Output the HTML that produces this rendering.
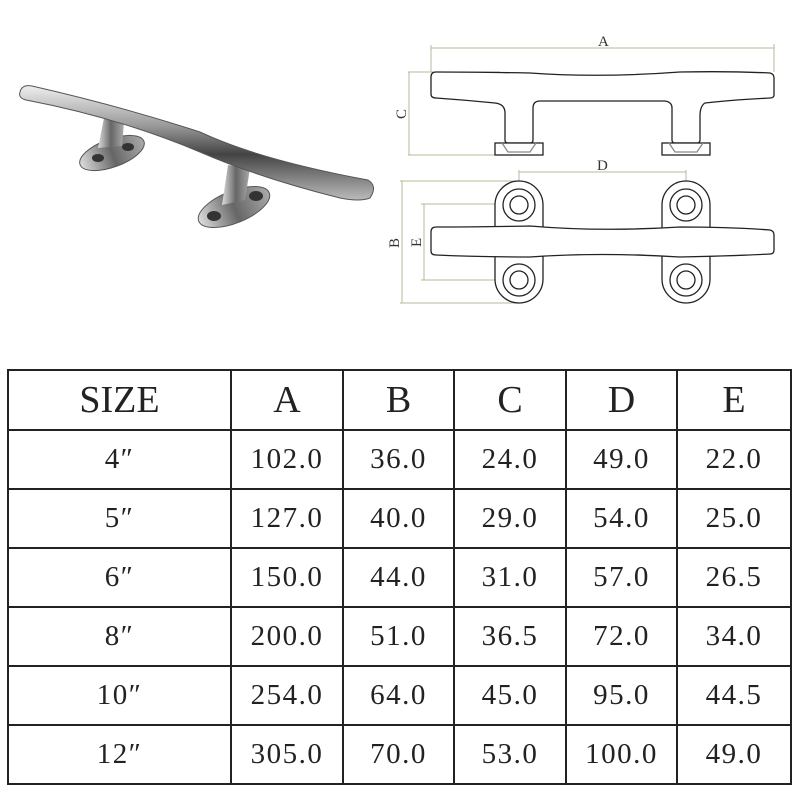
<!DOCTYPE html>
<html><head><meta charset="utf-8"><style>
body{margin:0;width:800px;height:800px;background:#fff;position:relative;overflow:hidden;font-family:"Liberation Serif","Noto Serif CJK SC",serif}
table{position:absolute;left:7px;top:369px;border-collapse:collapse;}
td{border:2.5px solid #222;text-align:center;padding:0;color:#222;font-size:29px;letter-spacing:1.5px;height:57px}
tr.h td{font-size:38px;height:58px;letter-spacing:0}
</style></head><body>
<svg width="800" height="360" style="position:absolute;left:0;top:0">
<defs>
<linearGradient id="g1" x1="0" y1="0" x2="0" y2="1"><stop offset="0" stop-color="#eee"/><stop offset=".35" stop-color="#9a9a9a"/><stop offset=".6" stop-color="#444"/><stop offset="1" stop-color="#bbb"/></linearGradient>
<linearGradient id="g2" x1="0" y1="0" x2="1" y2="0"><stop offset="0" stop-color="#ddd"/><stop offset=".5" stop-color="#666"/><stop offset="1" stop-color="#aaa"/></linearGradient>
</defs>
<g>
<ellipse cx="112" cy="153" rx="34" ry="14" transform="rotate(-20 112 153)" fill="url(#g2)" stroke="#555"/>
<ellipse cx="98" cy="158" rx="6" ry="4" fill="#333"/><ellipse cx="128" cy="147" rx="6" ry="4" fill="#333"/>
<path d="M98 148 L104 118 L124 122 L122 146 Z" fill="url(#g2)"/>
<ellipse cx="234" cy="207" rx="38" ry="16" transform="rotate(-22 234 207)" fill="url(#g2)" stroke="#555"/>
<ellipse cx="214" cy="216" rx="7" ry="5" fill="#333"/><ellipse cx="256" cy="196" rx="7" ry="5" fill="#333"/>
<path d="M222 205 L228 165 L250 168 L245 200 Z" fill="url(#g2)"/>
<path d="M20 92 Q22 84 32 86 Q120 106 200 132 Q260 160 368 180 Q378 186 370 198 Q360 202 340 198 Q260 178 200 152 Q120 118 26 100 Q18 98 20 92 Z" fill="url(#g1)" stroke="#555" stroke-width="1"/>
</g>
<g fill="none" stroke="#b5b89a" stroke-width="1">
<line x1="431" y1="48" x2="774" y2="48"/><line x1="431" y1="45" x2="431" y2="72"/><line x1="774" y1="44" x2="774" y2="72"/>
<line x1="409" y1="72" x2="409" y2="155"/><line x1="408" y1="72" x2="500" y2="72"/><line x1="408" y1="155" x2="495" y2="155"/>
<line x1="519" y1="172" x2="686" y2="172"/><line x1="519" y1="170" x2="519" y2="182"/><line x1="686" y1="170" x2="686" y2="182"/>
<line x1="402" y1="181" x2="402" y2="303"/><line x1="400" y1="181" x2="519" y2="181"/><line x1="400" y1="303" x2="519" y2="303"/>
<line x1="424" y1="204" x2="424" y2="280"/><line x1="421" y1="204" x2="519" y2="204"/><line x1="421" y1="280" x2="519" y2="280"/>
</g>
<g font-size="15" fill="#333" font-family="Liberation Serif,serif">
<text x="598" y="46">A</text><text x="597" y="170">D</text>
<text transform="translate(406 119) rotate(-90)">C</text>
<text transform="translate(399 248) rotate(-90)">B</text>
<text transform="translate(421 247) rotate(-90)">E</text>
</g>
<g fill="#fff" stroke="#222" stroke-width="1.3">
<path d="M436 72 Q470 72 530 73 Q600 78 680 72 Q730 71 770 73 Q774 74 774 78 L774 95 Q774 98 770 98 Q730 100 705 103 Q700 106 700 116 L700 140 Q700 143 697 143 L675 143 Q672 143 672 140 L672 108 Q672 102 665 101 Q600 101 540 101 Q533 101 533 108 L533 140 Q533 143 530 143 L508 143 Q505 143 505 140 L505 113 Q505 104 495 103 Q465 100 436 98 Q431 98 431 94 L431 77 Q431 72 436 72 Z"/>
<rect x="495" y="143" width="48" height="12"/><rect x="662" y="143" width="48" height="12"/>
<path d="M502 143 L508 152 L530 152 L536 143 M669 143 L675 152 L697 152 L703 143" stroke="#888" fill="none"/>
<rect x="495" y="181" width="48" height="122" rx="24"/><rect x="662" y="181" width="48" height="122" rx="24"/>
<path d="M436 227 Q480 227 530 226 Q600 232 680 227 Q730 227 770 230 Q774 231 774 235 L774 250 Q774 254 770 254 Q730 256 680 257 Q600 252 530 257 Q480 257 436 255 Q431 255 431 251 L431 232 Q431 227 436 227 Z"/>
<circle cx="519" cy="205" r="16"/><circle cx="519" cy="205" r="9"/>
<circle cx="519" cy="280" r="16"/><circle cx="519" cy="280" r="9"/>
<circle cx="686" cy="205" r="16"/><circle cx="686" cy="205" r="9"/>
<circle cx="686" cy="280" r="16"/><circle cx="686" cy="280" r="9"/>
</g>
</svg>
<table>
<colgroup><col style="width:223px"><col style="width:112px"><col style="width:111px"><col style="width:112px"><col style="width:111px"><col style="width:114px"></colgroup>
<tr class="h"><td>SIZE</td><td>A</td><td>B</td><td>C</td><td>D</td><td>E</td></tr>
<tr><td>4″</td><td>102.0</td><td>36.0</td><td>24.0</td><td>49.0</td><td>22.0</td></tr>
<tr><td>5″</td><td>127.0</td><td>40.0</td><td>29.0</td><td>54.0</td><td>25.0</td></tr>
<tr><td>6″</td><td>150.0</td><td>44.0</td><td>31.0</td><td>57.0</td><td>26.5</td></tr>
<tr><td>8″</td><td>200.0</td><td>51.0</td><td>36.5</td><td>72.0</td><td>34.0</td></tr>
<tr><td>10″</td><td>254.0</td><td>64.0</td><td>45.0</td><td>95.0</td><td>44.5</td></tr>
<tr><td>12″</td><td>305.0</td><td>70.0</td><td>53.0</td><td>100.0</td><td>49.0</td></tr>
</table>
</body></html>
